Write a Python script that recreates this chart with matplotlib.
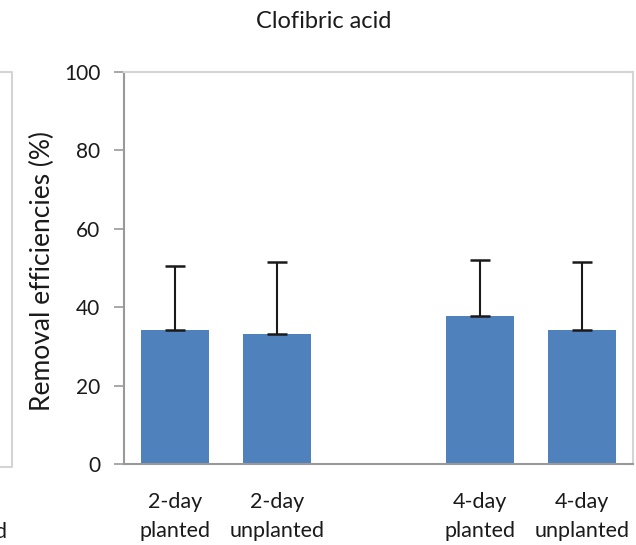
import numpy as np
import matplotlib.pyplot as plt
from matplotlib.lines import Line2D

# Datos (hueco vacio entre los dos grupos)
categorias = ['2-day\nplanted', '2-day\nunplanted', '', '4-day\nplanted', '4-day\nunplanted']
eficiencias = [34.1, 33.1, np.nan, 37.8, 34.2]
errores = [16.5, 18.4, np.nan, 14.2, 17.3]
yticks = [0, 20, 40, 60, 80, 100]

plt.rcParams['font.family'] = ['Lato', 'DejaVu Sans']

fig = plt.figure(figsize=(6.36, 5.45), dpi=100)
ax = fig.add_axes([124 / 636, 1 - 464 / 545, (633 - 124) / 636, (464 - 72) / 545])

x = np.arange(len(categorias))
vals = np.array(eficiencias)
errs = np.array(errores)
mask = ~np.isnan(vals)

ax.bar(x[mask], vals[mask], width=0.67, color='#4F81BD', zorder=2)
ax.errorbar(x[mask], vals[mask], yerr=[np.zeros(mask.sum()), errs[mask]],
            fmt='none', ecolor='#1a1a1a', elinewidth=1.5, capsize=7, capthick=1.8, zorder=3)

ax.set_xlim(-0.5, len(categorias) - 0.5)
ax.set_ylim(0, 100)
ax.set_yticks(yticks)
ax.set_xticks(x)
ax.set_xticklabels(categorias, fontsize=15.5, color='#1a1a1a', linespacing=1.6)
ax.tick_params(axis='x', length=0, pad=20)
ax.tick_params(axis='y', direction='out', length=7, width=1.2, color='#999999',
               labelsize=15, labelcolor='#1a1a1a', pad=10)

for s in ['left', 'bottom']:
    ax.spines[s].set_color('#999999')
    ax.spines[s].set_linewidth(1.5)
for s in ['top', 'right']:
    ax.spines[s].set_color('#d4d4d4')
    ax.spines[s].set_linewidth(1.5)

ax.set_ylabel('Removal efficiencies (%)', fontsize=19, color='#1a1a1a')
ax.yaxis.set_label_coords((42 - 124) / 509, (464 - 271) / 392)
ax.yaxis.label.set_va('center')
fig.text(324 / 636, 1 - 21 / 545, 'Clofibric acid', ha='center', va='center',
         fontsize=17, color='#1a1a1a')

# restos del grafico vecino a la izquierda
fig.add_artist(Line2D([0, 12 / 636, 12 / 636, 0],
                      [1 - 72 / 545, 1 - 72 / 545, 1 - 467 / 545, 1 - 467 / 545],
                      color='#d4d4d4', lw=1.5))
fig.text(7 / 636, 1 - 532 / 545, 'planted', ha='right', va='center',
         fontsize=15.5, color='#1a1a1a')

fig.savefig('out.png', dpi=100)
